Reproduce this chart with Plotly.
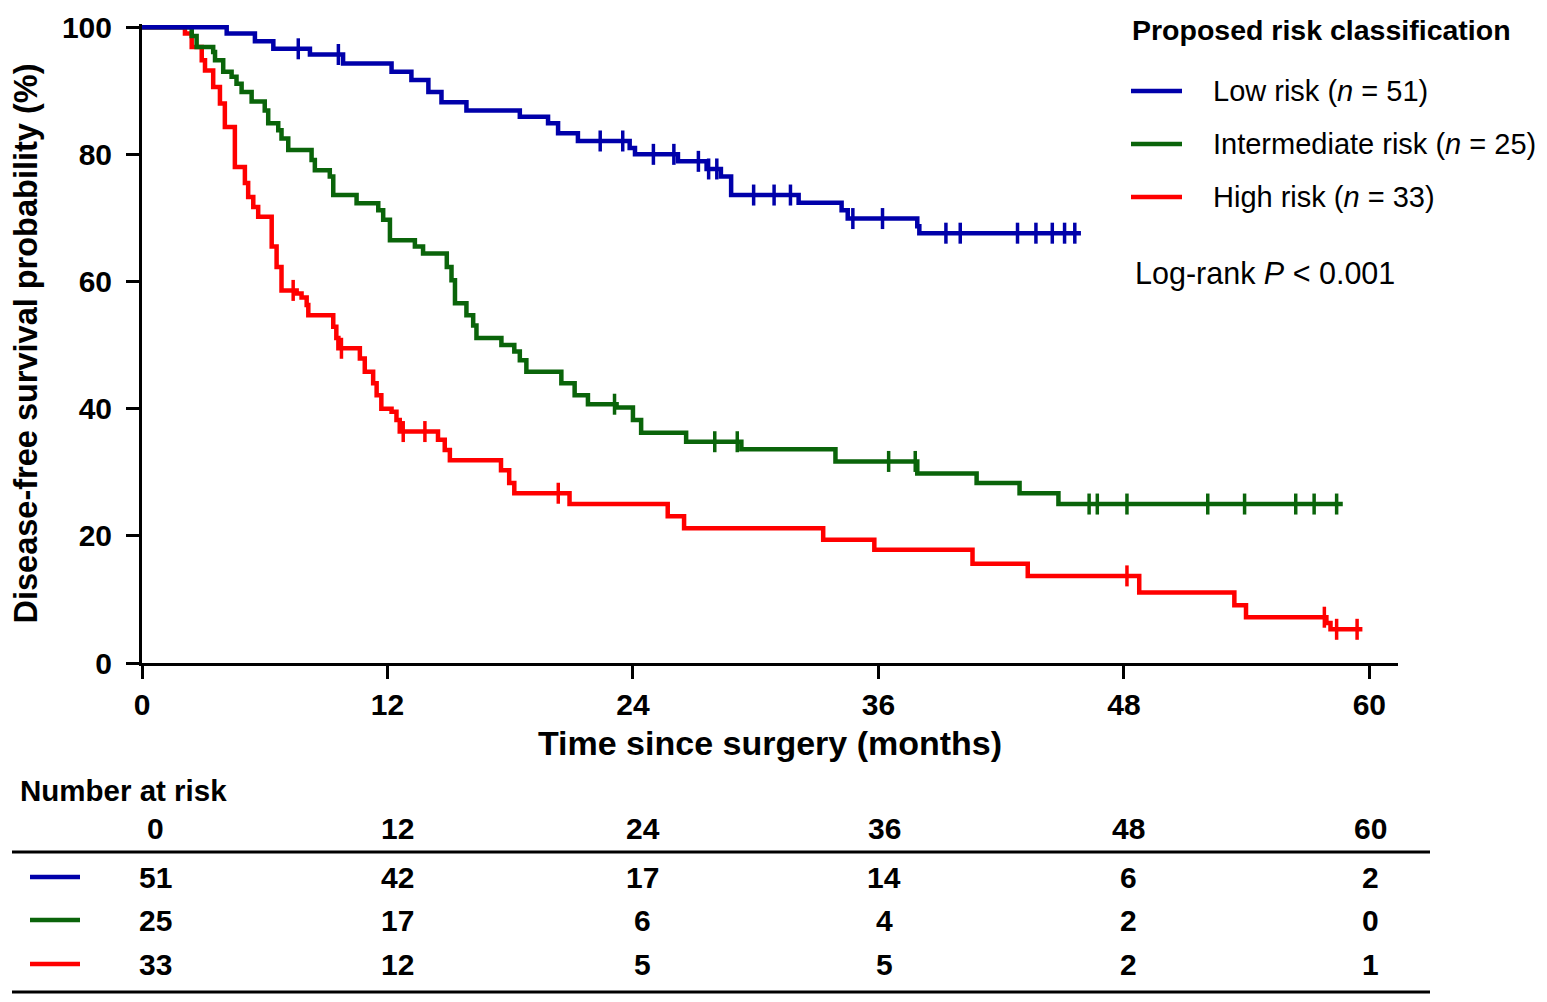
import numpy as np
import plotly.graph_objects as go

# Kaplan-Meier step points (months, DFS %)
low_time = [0, 4.14, 5.52, 6.42, 8.21, 9.83, 12.2, 13.17, 14.0, 14.64, 15.86, 18.47, 19.85, 20.34,
            21.31, 23.84, 24.1, 26.2, 27.6, 28.3, 28.8, 32.1, 34.2, 34.5, 37.9, 38.0, 45.9]
low_surv = [100, 99.0, 97.8, 96.6, 95.7, 94.3, 93.0, 91.7, 89.8, 88.2, 86.9, 85.9, 84.9, 83.3,
            82.1, 81.0, 80.0, 78.9, 77.7, 76.5, 73.6, 72.4, 71.2, 69.9, 68.7, 67.6, 67.6]
low_cens = [7.64, 9.6, 22.4, 23.5, 25.0, 26.0, 27.2, 27.7, 28.1, 29.9, 30.9, 31.7, 34.75, 36.2,
            39.3, 40.0, 42.8, 43.7, 44.5, 45.1, 45.6]

int_time = [0, 2.43, 2.67, 3.48, 3.57, 3.97, 4.38, 4.62, 4.87, 5.36, 6.0, 6.17, 6.66, 6.82, 7.15,
            8.29, 8.45, 9.18, 9.35, 10.49, 11.55, 11.79, 12.12, 13.34, 13.74, 14.9, 15.13, 15.3,
            15.86, 16.19, 16.35, 17.57, 18.2, 18.47, 18.79, 20.5, 21.15, 21.8, 23.2, 24.0, 24.4,
            26.6, 29.3, 33.9, 37.9, 40.8, 42.9, 44.8, 58.7]
int_surv = [100, 98.6, 96.9, 96.1, 94.8, 93.0, 92.2, 91.1, 89.8, 88.3, 86.9, 84.9, 83.8, 82.5, 80.7,
            79.1, 77.5, 76.5, 73.6, 72.3, 71.2, 69.7, 66.5, 65.5, 64.4, 62.3, 60.2, 56.6,
            54.7, 53.1, 51.1, 50.0, 49.0, 47.6, 45.8, 44.0, 42.1, 40.7, 40.2, 38.2, 36.2,
            34.8, 33.6, 31.7, 29.8, 28.3, 26.7, 25.0, 25.0]
int_cens = [23.1, 28.0, 29.1, 36.5, 37.8, 46.3, 46.7, 48.15, 52.1, 53.9, 56.4, 57.3, 58.4]

high_time = [0, 2.1, 2.43, 2.92, 3.08, 3.48, 3.81, 4.05, 4.54, 5.03, 5.19, 5.44, 5.68, 6.34, 6.58,
             6.82, 7.56, 7.8, 8.05, 8.13, 9.35, 9.5, 9.6, 10.65, 10.89, 11.3, 11.47, 11.7, 12.2,
             12.44, 12.6, 14.47, 14.8, 15.05, 17.55, 17.95, 18.2, 20.9, 25.7, 26.5, 33.3, 35.8,
             40.6, 43.3, 48.75, 53.4, 53.97, 57.9, 58.1, 59.66]
high_surv = [100, 99.0, 96.9, 94.8, 93.2, 90.6, 88.0, 84.3, 78.0, 75.5, 73.3, 71.7, 70.2, 65.5, 62.3,
             58.6, 58.1, 57.5, 56.3, 54.7, 52.9, 51.1, 49.5, 47.9, 45.8, 44.0, 42.1, 40.0, 39.5,
             38.2, 36.4, 35.1, 33.5, 31.9, 30.3, 28.3, 26.7, 25.0, 23.1, 21.2, 19.4, 17.8,
             15.6, 13.7, 11.1, 9.1, 7.2, 6.3, 5.3, 5.3]
high_cens = [7.39, 9.75, 12.77, 13.83, 20.35, 48.15, 57.8, 58.4, 59.4]

group_names = ['Low risk (<i>n</i> = 51)', 'Intermediate risk (<i>n</i> = 25)',
               'High risk (<i>n</i> = 33)']
group_colors = ['#0000AA', '#0A640A', '#FF0000']

risk_times = [0, 12, 24, 36, 48, 60]
risk_low = [51, 42, 17, 14, 6, 2]
risk_int = [25, 17, 6, 4, 2, 0]
risk_high = [33, 12, 5, 5, 2, 1]

# page size and plot area in page pixels (the html body has an 8px margin)
W, H = 1547, 1002
PAD = 8
L, R, T, B = 142, 1398, 24, 663


def fx(p):
    return (p - L) / (R - L)


def fy(p):
    return (B - p) / (B - T)


def level_at(times, surv, t):
    idx = np.searchsorted(times, t, side='right') - 1
    return np.asarray(surv)[idx]


fig = go.Figure()
series = [(high_time, high_surv, high_cens, group_colors[2]),
          (int_time, int_surv, int_cens, group_colors[1]),
          (low_time, low_surv, low_cens, group_colors[0])]
for tt, ss, cc, col in series:
    fig.add_trace(go.Scatter(x=tt, y=ss, mode='lines', line=dict(color=col, width=4.5, shape='hv'),
                             showlegend=False, hoverinfo='skip'))
    fig.add_trace(go.Scatter(x=cc, y=level_at(tt, ss, cc), mode='markers',
                             marker=dict(symbol='line-ns', size=15, line=dict(color=col, width=3.5)),
                             showlegend=False, hoverinfo='skip'))

bold = dict(family='Liberation Sans, Arial, sans-serif', size=30, color='black', weight='bold')
reg = dict(family='Liberation Sans, Arial, sans-serif', size=29, color='black')
tab = dict(family='Liberation Sans, Arial, sans-serif', size=30, color='black', weight='bold')

fig.update_xaxes(range=[0, 61.4], tickvals=risk_times, ticks='outside', ticklen=13, tickwidth=3,
                 showline=True, linewidth=3, linecolor='black', tickcolor='black',
                 showgrid=False, zeroline=False, tickfont=dict(bold, size=30), automargin=False,
                 title=dict(text='Time since surgery (months)', font=dict(bold, size=34), standoff=12))
fig.update_yaxes(range=[0, 100.5], tickvals=[0, 20, 40, 60, 80, 100], ticks='outside', ticklen=13,
                 tickwidth=3, showline=True, linewidth=3, linecolor='black', tickcolor='black',
                 showgrid=False, zeroline=False, tickfont=dict(bold, size=30), automargin=False,
                 ticklabelstandoff=8,
                 title=dict(text='Disease-free survival probability (%)', font=dict(bold, size=32.5),
                            standoff=16))

ann = []
shapes = []
# legend
ann.append(dict(text='Proposed risk classification', x=fx(1130), y=fy(30), xanchor='left',
                yanchor='middle', font=dict(bold, size=28.5)))
for name, col, yy in zip(group_names, group_colors, [91, 144, 197]):
    shapes.append(dict(type='line', xref='paper', yref='paper', x0=fx(1131), x1=fx(1182),
                       y0=fy(yy), y1=fy(yy), line=dict(color=col, width=4.5)))
    ann.append(dict(text=name, x=fx(1211), y=fy(yy), xanchor='left', yanchor='middle', font=reg))
ann.append(dict(text='Log-rank <i>P</i> &lt; 0.001', x=fx(1133), y=fy(273), xanchor='left',
                yanchor='middle', font=dict(reg, size=30.5)))

# number at risk table
col_shift = {0: 13, 12: 10, 24: 10, 36: 6, 48: 5, 60: 1}
ann.append(dict(text='Number at risk', x=fx(18), y=fy(790), xanchor='left', yanchor='middle',
                font=dict(bold, size=29.5)))
for t in risk_times:
    ann.append(dict(text=str(t), x=t, xref='x', xshift=col_shift[t], y=fy(828),
                    xanchor='center', yanchor='middle', font=tab))
for row, col, yy in zip([risk_low, risk_int, risk_high], group_colors, [877, 920, 964]):
    shapes.append(dict(type='line', xref='paper', yref='paper', x0=fx(30), x1=fx(80),
                       y0=fy(yy), y1=fy(yy), line=dict(color=col, width=4.5)))
    for t, v in zip(risk_times, row):
        ann.append(dict(text=str(v), x=t, xref='x', xshift=col_shift[t], y=fy(yy),
                        xanchor='center', yanchor='middle', font=tab))
for yy in [852, 992]:
    shapes.append(dict(type='line', xref='paper', yref='paper', x0=fx(12), x1=fx(1430),
                       y0=fy(yy), y1=fy(yy), line=dict(color='black', width=3)))

for a in ann:
    a.setdefault('xref', 'paper')
    a['yref'] = 'paper'
    a['showarrow'] = False

fig.update_layout(width=W - PAD, height=H - PAD,
                  margin=dict(l=L - PAD, r=W - R, t=T - PAD, b=H - B),
                  plot_bgcolor='white', paper_bgcolor='white', annotations=ann, shapes=shapes,
                  showlegend=False)

fig.write_html('out.html')
